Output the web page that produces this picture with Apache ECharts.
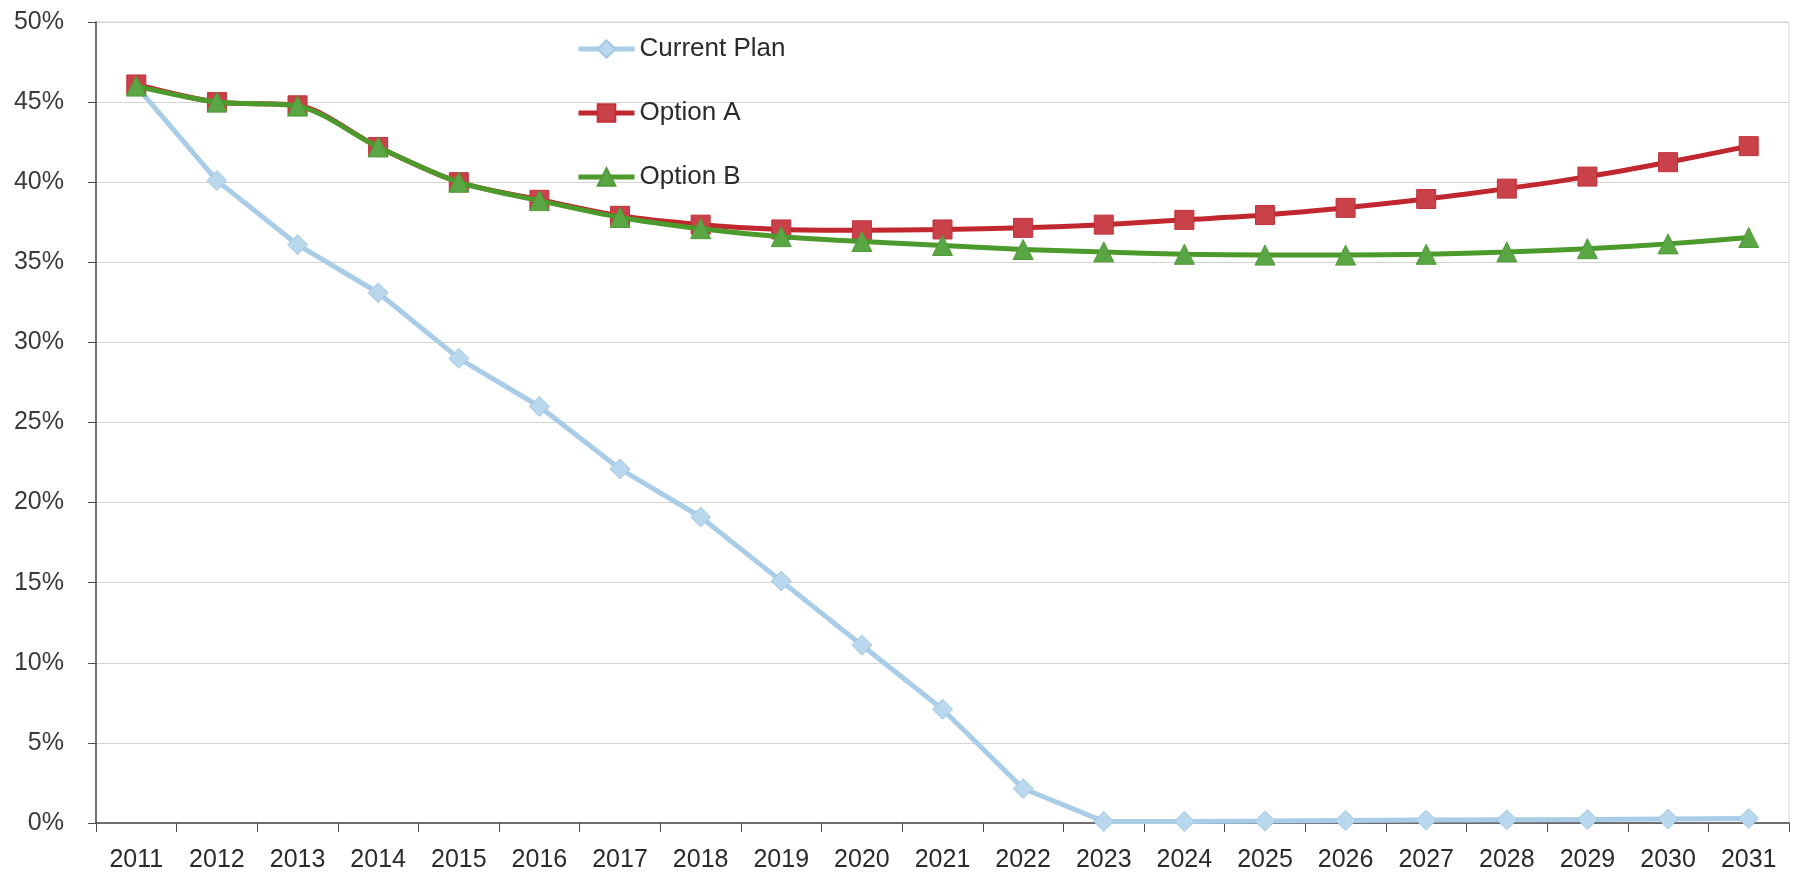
<!DOCTYPE html>
<html>
<head>
<meta charset="utf-8">
<script src="https://cdn.jsdelivr.net/npm/echarts@6/dist/echarts.min.js"></script>
<style>
html, body { margin: 0; padding: 0; background: #fff; }
#chart { width: 1799px; height: 879px; }
</style>
</head>
<body>
<div id="chart"></div>
<script>
const years = ['2011','2012','2013','2014','2015','2016','2017','2018','2019','2020','2021','2022','2023','2024','2025','2026','2027','2028','2029','2030','2031'];
const currentPlan = [46.0, 40.1, 36.1, 33.1, 29.0, 26.0, 22.1, 19.1, 15.1, 11.1, 7.1, 2.15, 0.1, 0.1, 0.12, 0.15, 0.18, 0.2, 0.22, 0.25, 0.28];
const optionA = [46.1, 45.0, 44.8, 42.2, 40.0, 38.9, 37.9, 37.35, 37.05, 37.0, 37.05, 37.15, 37.35, 37.65, 37.95, 38.4, 38.95, 39.6, 40.35, 41.25, 42.25];
const optionB = [46.0, 45.0, 44.75, 42.2, 40.0, 38.85, 37.8, 37.1, 36.6, 36.3, 36.05, 35.8, 35.65, 35.5, 35.45, 35.45, 35.5, 35.65, 35.85, 36.15, 36.55];
const yTicks = [0, 5, 10, 15, 20, 25, 30, 35, 40, 45, 50];

const FONT = "'Liberation Sans', Arial, sans-serif";
const chart = echarts.init(document.getElementById('chart'), null, { renderer: 'canvas' });

chart.setOption({
  animation: false,
  backgroundColor: '#ffffff',
  grid: {
    left: 96, right: 10, top: 22, bottom: 56,
    show: true, borderColor: '#d4d4d4', borderWidth: 1
  },
  legend: {
    orient: 'vertical',
    left: 571, top: 30,
    itemWidth: 56, itemHeight: 22, itemGap: 36,
    textStyle: { fontFamily: FONT, fontSize: 26, color: '#2b2b2b', lineHeight: 28 },
    data: [
      { name: 'Current Plan', lineStyle: { width: 5 } },
      { name: 'Option A', lineStyle: { width: 5 } },
      { name: 'Option B', lineStyle: { width: 5 } }
    ]
  },
  xAxis: {
    type: 'category',
    data: years,
    boundaryGap: true,
    axisLine: { lineStyle: { color: '#4a4a4a', width: 1.5 } },
    axisTick: { show: true, interval: 0, alignWithLabel: false, length: 9, lineStyle: { color: '#4a4a4a' } },
    axisLabel: { fontFamily: FONT, fontSize: 25, color: '#2b2b2b', margin: 25, interval: 0 },
    splitLine: { show: false }
  },
  yAxis: {
    type: 'value',
    min: yTicks[0], max: yTicks[yTicks.length - 1], interval: 5,
    axisLine: { show: true, lineStyle: { color: '#4a4a4a', width: 1.5 } },
    axisTick: { show: true, length: 8, lineStyle: { color: '#4a4a4a' } },
    axisLabel: { fontFamily: FONT, fontSize: 25, color: '#3a3a3a', margin: 32, formatter: v => v + '%' },
    splitLine: { show: true, lineStyle: { color: '#d4d4d4', width: 1 } }
  },
  series: [
    {
      name: 'Current Plan', type: 'line', data: currentPlan,
      symbol: 'diamond', symbolSize: 20,
      lineStyle: { color: '#a9cde6', width: 5 },
      itemStyle: { color: '#b9d8ee', borderColor: '#a2c8e2', borderWidth: 1 },
      z: 2
    },
    {
      name: 'Option A', type: 'line', data: optionA, smooth: 0.3,
      symbol: 'rect', symbolSize: 19,
      lineStyle: { color: '#c1272e', width: 5 },
      itemStyle: { color: '#c9424a', borderColor: '#c23038', borderWidth: 1 },
      z: 3
    },
    {
      name: 'Option B', type: 'line', data: optionB, smooth: 0.3,
      symbol: 'triangle', symbolSize: 20,
      lineStyle: { color: '#4c9a2c', width: 5 },
      itemStyle: { color: '#5aa544', borderColor: '#4f9c36', borderWidth: 1 },
      z: 4
    }
  ]
});
</script>
</body>
</html>
